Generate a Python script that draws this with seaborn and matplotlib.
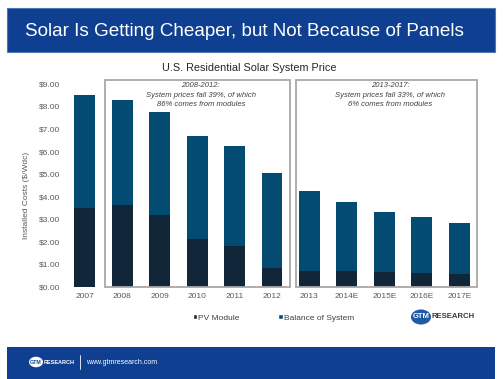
import pandas as pd
import matplotlib
matplotlib.use("Agg")
import matplotlib.pyplot as plt
import seaborn as sns
from matplotlib.patches import Rectangle, Circle, Patch
from matplotlib.ticker import FuncFormatter

# Data
years = ['2007', '2008', '2009', '2010', '2011', '2012',
         '2013', '2014E', '2015E', '2016E', '2017E']
total_price = [8.51, 8.29, 7.74, 6.71, 6.25, 5.04, 4.26, 3.78, 3.34, 3.10, 2.84]
pv_module = [3.51, 3.63, 3.19, 2.13, 1.80, 0.86, 0.71, 0.71, 0.66, 0.64, 0.59]
note_2008 = "2008-2012:\nSystem prices fall 39%, of which\n86% comes from modules"
note_2013 = "2013-2017:\nSystem prices fall 33%, of which\n6% comes from modules"

df = pd.DataFrame({'year': years, 'total': total_price, 'module': pv_module})

sns.set_theme(style="white")
plt.rcParams['font.family'] = ['Liberation Sans', 'DejaVu Sans']

W, H = 503, 379
fig = plt.figure(figsize=(W / 100, H / 100), dpi=100)


def fx(px):
    return px / W


def fy(py):
    return 1 - py / H


# Header band
fig.add_artist(Rectangle((fx(7), fy(52)), fx(488), 44 / H, transform=fig.transFigure,
                         facecolor='#0E3F91', edgecolor='#4D78B8', lw=0.8))
fig.text(fx(25), fy(31), "Solar Is Getting Cheaper, but Not Because of Panels",
         color='white', fontsize=13.6, va='center', ha='left')

# Footer band
fig.add_artist(Rectangle((fx(7), 0), fx(488), 32 / H, transform=fig.transFigure,
                         facecolor='#0E3F91', edgecolor='none'))
fig.add_artist(Circle((fx(36), fy(362)), 7 / W, transform=fig.transFigure,
                      facecolor='white', edgecolor='none'))
fig.text(fx(36), fy(362), "GTM", color='#0E3F91', fontsize=3.8, fontweight='bold',
         ha='center', va='center')
fig.text(fx(44), fy(362), "RESEARCH", color='white', fontsize=4, fontweight='bold',
         ha='left', va='center')
fig.add_artist(plt.Line2D([fx(80), fx(80)], [fy(355), fy(369)], transform=fig.transFigure,
                          color='white', lw=0.6))
fig.text(fx(86), fy(362), "www.gtmresearch.com", color='white', fontsize=5,
         ha='left', va='center')

# Main chart
ax = fig.add_axes([fx(66), fy(287), fx(412), (287 - 79.4) / H])
sns.barplot(data=df, x='year', y='total', order=years, color='#034B73',
            width=0.56, saturation=1, edgecolor='none', ax=ax)
sns.barplot(data=df, x='year', y='module', order=years, color='#12263A',
            width=0.56, saturation=1, edgecolor='none', ax=ax)

ax.set_ylim(0, 9.2)
ax.set_xlim(-0.5, len(years) - 0.5)
ax.set_yticks(range(0, 10))
ax.yaxis.set_major_formatter(FuncFormatter(lambda v, p: f"${v:.2f}"))
ax.tick_params(axis='both', length=0, labelsize=6, colors='#595959', pad=4)
ax.set_xlabel('')
ax.set_ylabel('Installed Costs ($/Wdc)', fontsize=6, color='#595959')
ax.yaxis.set_label_coords(-0.088, 0.44)
for s in ax.spines.values():
    s.set_visible(False)

ax.set_title("U.S. Residential Solar System Price", fontsize=7.8, color='#262626', pad=6)
ax.title.set_position((0.445, 1))

# Period boxes
for x0, x1 in [(0.53, 5.48), (5.63, 10.48)]:
    ax.add_patch(Rectangle((x0, -0.02), x1 - x0, 9.2, fill=False,
                           edgecolor='#A8A8A8', lw=1.3, clip_on=False))
ax.text(3.1, 9.07, note_2008, fontsize=5.5, style='italic', color='#404040',
        ha='center', va='top', linespacing=1.45)
ax.text(8.15, 9.07, note_2013, fontsize=5.5, style='italic', color='#404040',
        ha='center', va='top', linespacing=1.45)

# Legend
handles = [Patch(facecolor='#12263A', label='PV Module'),
           Patch(facecolor='#034B73', label='Balance of System')]
fig.legend(handles=handles, loc='center left', bbox_to_anchor=(fx(185), fy(318)),
           ncol=2, frameon=False, fontsize=6, handlelength=0.55, handleheight=0.55,
           handletextpad=0.15, columnspacing=4.6, labelcolor='#404040')

# GTM Research logo
fig.add_artist(Circle((fx(421), fy(317)), 10 / W, transform=fig.transFigure,
                      facecolor='#1E5AA8', edgecolor='none'))
fig.text(fx(421), fy(317), "GTM", color='white', fontsize=5.5, fontweight='bold',
         ha='center', va='center')
fig.text(fx(432), fy(317), "RESEARCH", color='#3A3A3A', fontsize=5.6, fontweight='bold',
         ha='left', va='center')

fig.savefig('out.png', dpi=100)
